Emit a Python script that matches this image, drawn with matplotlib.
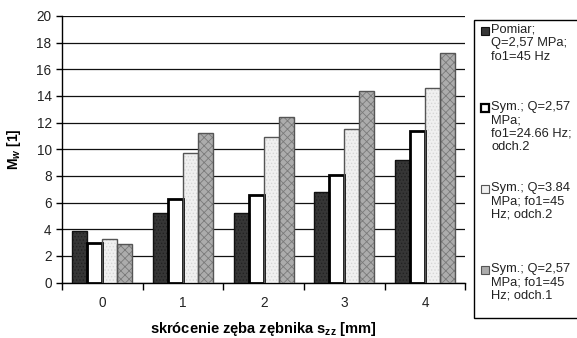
import matplotlib
matplotlib.use("Agg")
import matplotlib.pyplot as plt
from matplotlib.patches import Rectangle
import numpy as np

plt.rcParams['font.family'] = ['Liberation Sans', 'DejaVu Sans']
plt.rcParams['mathtext.fontset'] = 'custom'
plt.rcParams['mathtext.rm'] = 'Liberation Sans:bold'
plt.rcParams['mathtext.it'] = 'Liberation Sans:bold:italic'
plt.rcParams['hatch.linewidth'] = 0.6

categories = ['0', '1', '2', '3', '4']
pomiar = [3.85, 5.2, 5.25, 6.8, 9.2]
sym_q257_f2466 = [2.95, 6.3, 6.55, 8.05, 11.4]
sym_q384_f45 = [3.25, 9.7, 10.9, 11.5, 14.6]
sym_q257_f45 = [2.9, 11.25, 12.4, 14.4, 17.2]

labels = [
    "Pomiar;\nQ=2,57 MPa;\nfo1=45 Hz",
    "Sym.; Q=2,57\nMPa;\nfo1=24.66 Hz;\nodch.2",
    "Sym.; Q=3.84\nMPa; fo1=45\nHz; odch.2",
    "Sym.; Q=2,57\nMPa; fo1=45\nHz; odch.1",
]

# face, hatch, hatch colour, edge colour, edge width
styles = [
    ('#363636', '.....', '#222222', '#111111', 1.0),
    ('#ffffff', None, '#ffffff', '#000000', 2.0),
    ('#f0f0f0', '.....', '#d6d6d6', '#555555', 1.0),
    ('#acacac', 'xxxx', '#7a7a7a', '#555555', 1.0),
]

series = [pomiar, sym_q257_f2466, sym_q384_f45, sym_q257_f45]

fig = plt.figure(figsize=(5.77, 3.38), dpi=100)
ax = fig.add_axes([0.1075, 0.164, 0.699, 0.789])

x = np.arange(len(categories))
w = 0.186
for i, (vals, st) in enumerate(zip(series, styles)):
    face, hatch, hcol, ecol, lw = st
    pos = x + (i - 1.5) * w
    ax.bar(pos, vals, width=w, color=face, hatch=hatch, edgecolor=hcol,
           linewidth=0, zorder=3)
    ax.bar(pos, vals, width=w, fill=False, edgecolor=ecol, linewidth=lw,
           zorder=4)

ax.set_xlim(-0.5, 4.5)
ax.set_ylim(0, 20)
ax.set_yticks(np.arange(0, 21, 2))
ax.yaxis.grid(True, color='#111111', linewidth=0.9, zorder=0)
ax.set_axisbelow(True)

ax.set_xticks(x)
ax.set_xticklabels(categories)
ax.set_xticks(np.arange(-0.5, 4.6, 1.0), minor=True)
ax.tick_params(axis='x', which='major', length=0, pad=10, labelsize=9.8,
               labelcolor='#222222')
ax.tick_params(axis='x', which='minor', length=5, width=1, direction='out')
ax.tick_params(axis='y', length=4, width=1, direction='out', labelsize=9.8,
               labelcolor='#222222')

for s in ['top', 'right']:
    ax.spines[s].set_visible(False)
for s in ['left', 'bottom']:
    ax.spines[s].set_linewidth(1.0)

ax.set_ylabel(r"M$_{w}$ [1]", fontsize=10, fontweight='bold', labelpad=10)
ax.set_xlabel(r"skrócenie zęba zębnika s$_{\mathrm{zz}}$ [mm]", fontsize=10.5,
              fontweight='bold', labelpad=7)

# legend panel drawn in figure pixels
W, H = 577.0, 338.0
fig.add_artist(Rectangle((474 / W, 1 - 318 / H), 120 / W, 298 / H,
                         transform=fig.transFigure, facecolor='white',
                         edgecolor='black', linewidth=1.0, clip_on=False))
entry_tops = [24, 101, 182, 263]
for (face, hatch, hcol, ecol, lw), lab, top in zip(styles, labels, entry_tops):
    fig.add_artist(Rectangle((481 / W, 1 - (top + 11) / H), 8 / W, 8 / H,
                             transform=fig.transFigure, facecolor=face,
                             edgecolor=ecol if lw < 2 else '#000000',
                             linewidth=1.6 if lw >= 2 else 0.8))
    fig.text(491 / W, 1 - top / H, lab, fontsize=9.3, va='top', ha='left',
             linespacing=1.15, color='#222222')

fig.savefig("out.png", dpi=100)
